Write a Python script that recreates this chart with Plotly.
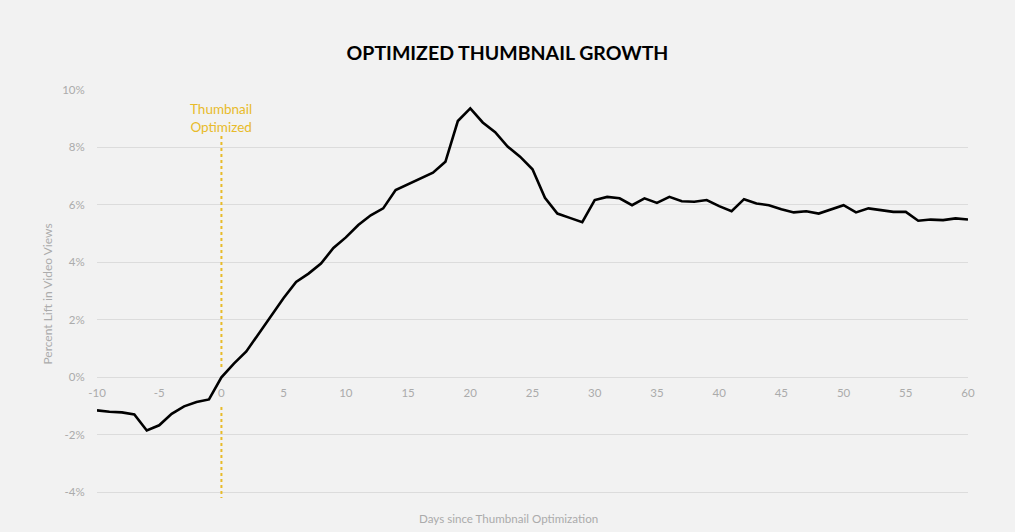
import plotly.graph_objects as go

days = list(range(-10, 61))
lift = [-1.15, -1.20, -1.22, -1.29, -1.85, -1.67, -1.27, -1.01, -0.86, -0.77,
        0.00, 0.48, 0.90, 1.52, 2.10, 2.76, 3.32, 3.61, 3.96, 4.50,
        4.87, 5.30, 5.64, 5.88, 6.52, 6.72, 6.92, 7.12, 7.50, 8.92,
        9.36, 8.87, 8.53, 8.03, 7.68, 7.24, 6.25, 5.70, 5.55, 5.40,
        6.17, 6.28, 6.23, 5.99, 6.23, 6.07, 6.28, 6.13, 6.11, 6.17,
        5.96, 5.78, 6.20, 6.05, 5.99, 5.85, 5.74, 5.78, 5.70, 5.85,
        5.99, 5.74, 5.88, 5.82, 5.76, 5.76, 5.45, 5.49, 5.47, 5.53,
        5.49]

y_tickvals = [-4, -2, 0, 2, 4, 6, 8, 10]
y_ticktext = ["-4%", "-2%", "0%", "2%", "4%", "6%", "8%", "10%"]
x_tickvals = [-10, -5, 0, 5, 10, 15, 20, 25, 30, 35, 40, 45, 50, 55, 60]
x_ticktext = ["-10", "-5", "0", "5", "10", "15", "20", "25", "30", "35", "40", "45", "50", "55", "60"]

event_day = 0
event_label = "Thumbnail<br>Optimized"
marker_upper = [8.4, 0.3]
marker_lower = [-1.03, -4.2]

BG = "#F2F2F2"
GRID = "#DCDCDC"
TICK = "#ABABAB"
GOLD = "#E8BB2A"
FONT = "Lato"

y_range = [-4.2, 10]

fig = go.Figure()

fig.add_trace(go.Scatter(x=[event_day, event_day], y=marker_upper, mode="lines",
                         line=dict(color=GOLD, width=2, dash="dot"),
                         hoverinfo="skip", showlegend=False))
fig.add_trace(go.Scatter(x=[event_day, event_day], y=marker_lower, mode="lines",
                         line=dict(color=GOLD, width=2, dash="dot"),
                         hoverinfo="skip", showlegend=False))
fig.add_trace(go.Scatter(x=days, y=lift, mode="lines",
                         line=dict(color="#000000", width=2.6),
                         showlegend=False))

fig.add_annotation(x=event_day, y=9.03, xref="x", yref="y", text=event_label,
                   showarrow=False, font=dict(family=FONT, size=13.5, color=GOLD),
                   align="center")

fig.add_annotation(x=0.473, y=-0.05, xref="paper", yref="paper",
                   text="Days since Thumbnail Optimization", showarrow=False,
                   font=dict(family=FONT, size=11.6, color=TICK), yanchor="middle")

fig.update_layout(
    width=1015, height=532,
    paper_bgcolor=BG, plot_bgcolor=BG,
    margin=dict(l=97, r=47, t=90, b=34),
    title=dict(text="<b>OPTIMIZED THUMBNAIL GROWTH</b>", x=0.5, xref="container",
               xanchor="center", y=0.9, yref="container", yanchor="middle",
               font=dict(family=FONT, size=19.5, color="#000000")),
    font=dict(family=FONT),
    xaxis=dict(range=[-10, 60], showgrid=False, zeroline=False, showline=False,
               tickvals=x_tickvals, ticktext=x_ticktext,
               tickfont=dict(family=FONT, size=11.5, color=TICK),
               ticks="outside", ticklen=5, tickcolor="rgba(0,0,0,0)",
               anchor="free", position=(0 - y_range[0]) / (y_range[1] - y_range[0])),
    yaxis=dict(range=y_range, showgrid=True, gridcolor=GRID, gridwidth=1,
               zeroline=False, showline=False,
               tickvals=y_tickvals, ticktext=y_ticktext,
               tickfont=dict(family=FONT, size=11.5, color=TICK),
               ticks="outside", ticklen=9, tickcolor="rgba(0,0,0,0)",
               title=dict(text="Percent Lift in Video Views",
                          font=dict(family=FONT, size=12, color=TICK),
                          standoff=6)),
)

fig.write_html("out.html", config={"displayModeBar": False},
               post_script="document.body.style.margin='0';")
